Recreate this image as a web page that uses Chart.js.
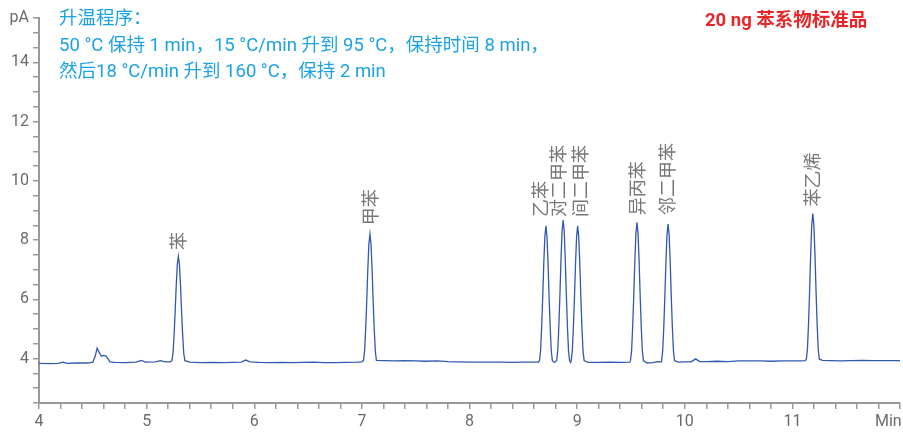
<!DOCTYPE html>
<html lang="zh">
<head>
    <meta charset="UTF-8">
    <title>20 ng 苯系物标准品</title>
    <script src="https://cdn.jsdelivr.net/npm/chart.js"></script>
    <style>
        body {
            margin: 0;
            background: #fff;
        }
        .wrap {
            position: relative;
            width: 903px;
            height: 434px;
        }
        .note {
            position: absolute;
            left: 59px;
            top: 5px;
            color: #1ca2e3;
            font: 18.5px/26.5px Roboto, "Noto Sans CJK SC", sans-serif;
            white-space: nowrap;
        }
        .title {
            position: absolute;
            left: 705px;
            top: 7px;
            color: #e8262a;
            font: bold 18.5px/26px Roboto, "Noto Sans CJK SC", sans-serif;
            white-space: nowrap;
        }
    </style>
</head>
<body>
    <div class="wrap">
        <canvas id="gcChart" width="903" height="434"></canvas>
        <!-- 升温程序 -->
        <div class="note">
            升温程序：<br>
            50 °C 保持 1 min，15 °C/min 升到 95 °C，保持时间 8 min，<br>
            然后18 °C/min 升到 160 °C，保持 2 min
        </div>
        <div class="title">20 ng 苯系物标准品</div>
    </div>

    <script>
        // 保留时间 (min)
        var traceTime = [
            4.00, 4.10, 4.18, 4.22, 4.26, 4.35, 4.45, 4.50, 4.52, 4.54, 4.56, 4.58, 4.60, 4.62, 4.64, 4.66, 4.70, 4.80, 4.90, 4.95, 4.99, 5.08, 5.13, 5.17, 5.22,
            5.235, 5.245, 5.255, 5.265, 5.275, 5.285, 5.295, 5.305, 5.315, 5.325, 5.335, 5.345, 5.355,
            5.40, 5.50, 5.60, 5.70, 5.80, 5.88, 5.92, 5.96, 6.05, 6.15, 6.25, 6.35, 6.45, 6.55, 6.65, 6.75, 6.85, 6.95, 7.00,
            7.015, 7.025, 7.035, 7.045, 7.055, 7.065, 7.075, 7.085, 7.095, 7.105, 7.115, 7.125, 7.135,
            7.20, 7.30, 7.40, 7.50, 7.60, 7.70, 7.80, 7.90, 8.00, 8.10, 8.20, 8.30, 8.40, 8.50, 8.60, 8.64,
            8.65, 8.66, 8.67, 8.68, 8.69, 8.70, 8.71, 8.72, 8.73, 8.74, 8.75, 8.76, 8.77, 8.79,
            8.81, 8.82, 8.83, 8.84, 8.85, 8.86, 8.87, 8.88, 8.89, 8.90, 8.91, 8.92, 8.93, 8.94,
            8.945, 8.955, 8.965, 8.975, 8.985, 8.995, 9.005, 9.015, 9.025, 9.035, 9.045, 9.055, 9.065,
            9.10, 9.20, 9.30, 9.40, 9.49,
            9.496, 9.506, 9.516, 9.526, 9.536, 9.546, 9.556, 9.566, 9.576, 9.586, 9.596, 9.606, 9.616,
            9.65, 9.70, 9.75, 9.78,
            9.785, 9.795, 9.805, 9.815, 9.825, 9.835, 9.845, 9.855, 9.865, 9.875, 9.885, 9.895, 9.905,
            9.94, 10.00, 10.06, 10.10, 10.14, 10.20, 10.30, 10.40, 10.50, 10.60, 10.70, 10.80, 10.90, 11.00, 11.08, 11.12,
            11.13, 11.14, 11.15, 11.16, 11.17, 11.18, 11.19, 11.20, 11.21, 11.22, 11.23, 11.24, 11.25,
            11.28, 11.35, 11.45, 11.55, 11.65, 11.75, 11.85, 11.95, 12.00
        ];
        // 信号 (pA)
        var tracePA = [
            3.84, 3.83, 3.84, 3.88, 3.84, 3.85, 3.85, 3.88, 4.05, 4.35, 4.20, 4.08, 4.11, 4.09, 4.00, 3.89, 3.87, 3.86, 3.88, 3.94, 3.88, 3.89, 3.93, 3.89, 3.89,
            3.93, 4.18, 4.78, 5.57, 6.46, 7.17, 7.46, 7.17, 6.46, 5.57, 4.78, 4.18, 3.93,
            3.88, 3.86, 3.87, 3.86, 3.87, 3.88, 3.95, 3.89, 3.87, 3.86, 3.87, 3.86, 3.87, 3.88, 3.86, 3.86, 3.87, 3.88, 3.89,
            3.94, 4.24, 4.98, 5.92, 7.00, 7.86, 8.20, 7.86, 7.00, 5.92, 4.98, 4.24, 3.94,
            3.93, 3.92, 3.93, 3.92, 3.91, 3.92, 3.90, 3.89, 3.88, 3.88, 3.88, 3.88, 3.87, 3.88, 3.88, 3.88,
            3.93, 4.25, 5.03, 6.04, 7.19, 8.11, 8.48, 8.11, 7.19, 6.04, 5.03, 4.25, 3.93, 3.87,
            3.93, 4.26, 5.08, 6.14, 7.34, 8.30, 8.68, 8.30, 7.34, 6.14, 5.08, 4.26, 3.93, 3.87,
            3.93, 4.25, 5.03, 6.04, 7.19, 8.11, 8.48, 8.11, 7.19, 6.04, 5.03, 4.25, 3.93,
            3.87, 3.87, 3.88, 3.87, 3.88,
            3.93, 4.26, 5.06, 6.10, 7.28, 8.22, 8.60, 8.22, 7.28, 6.10, 5.06, 4.26, 3.93,
            3.85, 3.86, 3.90, 3.89,
            3.93, 4.25, 5.05, 6.07, 7.24, 8.17, 8.54, 8.17, 7.24, 6.07, 5.05, 4.25, 3.93,
            3.88, 3.89, 3.89, 3.99, 3.90, 3.90, 3.91, 3.90, 3.92, 3.92, 3.92, 3.91, 3.92, 3.92, 3.92, 3.93,
            3.98, 4.33, 5.17, 6.27, 7.51, 8.50, 8.90, 8.50, 7.51, 6.27, 5.17, 4.33, 3.98,
            3.94, 3.93, 3.92, 3.93, 3.94, 3.93, 3.93, 3.93, 3.93
        ];

        // 峰名称、保留时间、峰高
        var peakNames = ['苯', '甲苯', '乙苯', '对二甲苯', '间二甲苯', '异丙苯', '邻二甲苯', '苯乙烯'];
        var peakTimes = [5.295, 7.075, 8.71, 8.87, 9.005, 9.556, 9.845, 11.19];
        var peakApex = [7.46, 8.20, 8.48, 8.68, 8.48, 8.60, 8.54, 8.90];

        // 坐标轴刻度
        var xTickLabels = [4, 5, 6, 7, 8, 9, 10, 11];
        var yTickLabels = [4, 6, 8, 10, 12, 14];
        var xUnit = 'Min';
        var yUnit = 'pA';

        var points = traceTime.map(function(t, i) {
            return { x: t, y: tracePA[i] };
        });

        function isTick(list, v) {
            for (var i = 0; i < list.length; i++) {
                if (Math.abs(list[i] - v) < 1e-6) return true;
            }
            return false;
        }

        // 峰标注（竖排）
        var peakLabelPlugin = {
            id: 'peakLabels',
            afterDatasetsDraw: function(chart) {
                var ctx = chart.ctx;
                var xs = chart.scales.x;
                var ys = chart.scales.y;
                var dx = [0, 0, -6, -5, 2, 0, -1, -1];
                var gap = [6, 9, 9, 3, 9, 7, 9, 7];
                ctx.save();
                ctx.fillStyle = '#777';
                ctx.font = '18px "Noto Sans CJK SC"';
                ctx.textAlign = 'left';
                ctx.textBaseline = 'middle';
                for (var i = 0; i < peakNames.length; i++) {
                    var px = xs.getPixelForValue(peakTimes[i]) + dx[i];
                    var py = ys.getPixelForValue(peakApex[i]) - gap[i];
                    ctx.save();
                    ctx.translate(px, py);
                    ctx.rotate(-Math.PI / 2);
                    ctx.fillText(peakNames[i], 0, 0);
                    ctx.restore();
                }
                // x 轴单位
                ctx.fillStyle = '#6b6b6b';
                ctx.font = '16px Roboto';
                ctx.fillText(xUnit, xs.getPixelForValue(12) - 25, 422);
                ctx.restore();
            }
        };

        var ctx = document.getElementById('gcChart').getContext('2d');
        var gcChart = new Chart(ctx, {
            type: 'line',
            data: {
                datasets: [{
                    label: 'FID',
                    data: points,
                    borderColor: '#3059b0',
                    borderWidth: 1.3,
                    pointRadius: 0,
                    tension: 0,
                    fill: false
                }]
            },
            options: {
                responsive: false,
                animation: false,
                layout: {
                    padding: { top: 18, right: 3, left: 0, bottom: 0 }
                },
                plugins: {
                    legend: { display: false },
                    tooltip: { enabled: false }
                },
                scales: {
                    x: {
                        type: 'linear',
                        min: 4,
                        max: 12,
                        afterFit: function(scale) { scale.height = 31; },
                        border: { display: true, color: '#999', width: 2 },
                        grid: {
                            display: true,
                            drawOnChartArea: false,
                            drawTicks: true,
                            tickLength: 6,
                            color: '#999',
                            lineWidth: 1.5
                        },
                        ticks: {
                            stepSize: 0.2,
                            autoSkip: false,
                            maxRotation: 0,
                            padding: 3,
                            color: '#6b6b6b',
                            font: { family: 'Roboto', size: 16 },
                            callback: function(v) {
                                return isTick(xTickLabels, v) ? String(Math.round(v)) : '';
                            }
                        }
                    },
                    y: {
                        type: 'linear',
                        min: 2.5,
                        max: 15.5,
                        afterFit: function(scale) { scale.width = 39; },
                        border: { display: true, color: '#999', width: 2 },
                        grid: {
                            display: true,
                            drawOnChartArea: false,
                            drawTicks: true,
                            tickLength: 6,
                            color: '#999',
                            lineWidth: 1.5
                        },
                        ticks: {
                            stepSize: 0.5,
                            autoSkip: false,
                            padding: 4,
                            color: '#6b6b6b',
                            font: { family: 'Roboto', size: 16 },
                            callback: function(v) {
                                if (Math.abs(v - 15.5) < 1e-6) return yUnit;
                                return isTick(yTickLabels, v) ? String(Math.round(v)) : '';
                            }
                        }
                    }
                }
            },
            plugins: [peakLabelPlugin]
        });
    </script>
</body>
</html>
